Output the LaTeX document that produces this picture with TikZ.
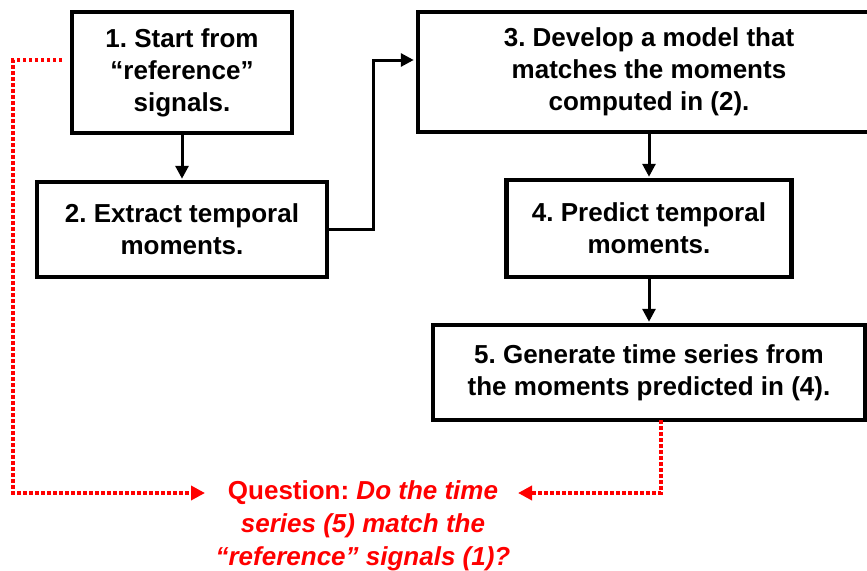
\documentclass[tikz,border=0pt]{standalone}
\usepackage{fontspec}
\setmainfont{Liberation Sans}
\usetikzlibrary{arrows.meta}
\begin{document}
\frenchspacing
\begin{tikzpicture}[x=1pt,y=-1pt,
  box/.style={draw, line width=4.5pt, align=center, inner sep=0pt,
    font=\fontsize{26}{32}\selectfont\bfseries},
  flow/.style={line width=3pt, -{Triangle[length=13pt,width=13pt]}},
  check/.style={red, line width=3.5pt, dash pattern=on 3.5pt off 2.5pt,
    -{Triangle[length=14pt,width=14pt]}},
  qtext/.style={align=center, inner sep=0pt, text=red,
    font=\fontsize{26}{33}\selectfont\bfseries}]
\useasboundingbox (0,0) rectangle (867,570);
\clip (0,0) rectangle (867,570);
\node[box, minimum width=220pt, minimum height=121pt] (b1) at (182,72.5)
  {1. Start from\\“reference”\\signals.};
\node[box, minimum width=290pt, minimum height=95pt] (b2) at (182,229.5)
  {2. Extract temporal\\moments.};
\node[box, minimum width=462pt, minimum height=120pt] (b3) at (649,72)
  {3. Develop a model that\\matches the moments\\computed in (2).};
\node[box, minimum width=285pt, minimum height=97pt] (b4) at (649,228.5)
  {4. Predict temporal\\moments.};
\node[box, minimum width=432pt, minimum height=95pt] (b5) at (649,372.5)
  {5. Generate time series from\\the moments predicted in (4).};
\node[qtext] (q) at (363,526)
  {Question: \textit{Do the time}\\\textit{series (5) match the}\\\textit{“reference” signals (1)?}};
\coordinate (j) at (373,60);
\coordinate (r1) at (62,60);
\coordinate (l1) at (13,60);
\coordinate (qa) at (205,493);
\coordinate (qb) at (518,493);
\coordinate (r5) at ([xshift=12pt,yshift=2pt]b5.south);
\draw[flow, shorten >=1pt] (b1.south) -- (b2.north);
\draw[flow, shorten >=2pt] (b2.east) -| (j) -- (j -| b3.west);
\draw[flow, shorten >=1pt] (b3.south) -- (b4.north);
\draw[flow, shorten >=1pt] (b4.south) -- (b5.north);
\draw[check] (r1) -- (l1) |- (qa);
\draw[check] (r5) |- (qb);
\end{tikzpicture}
\end{document}
